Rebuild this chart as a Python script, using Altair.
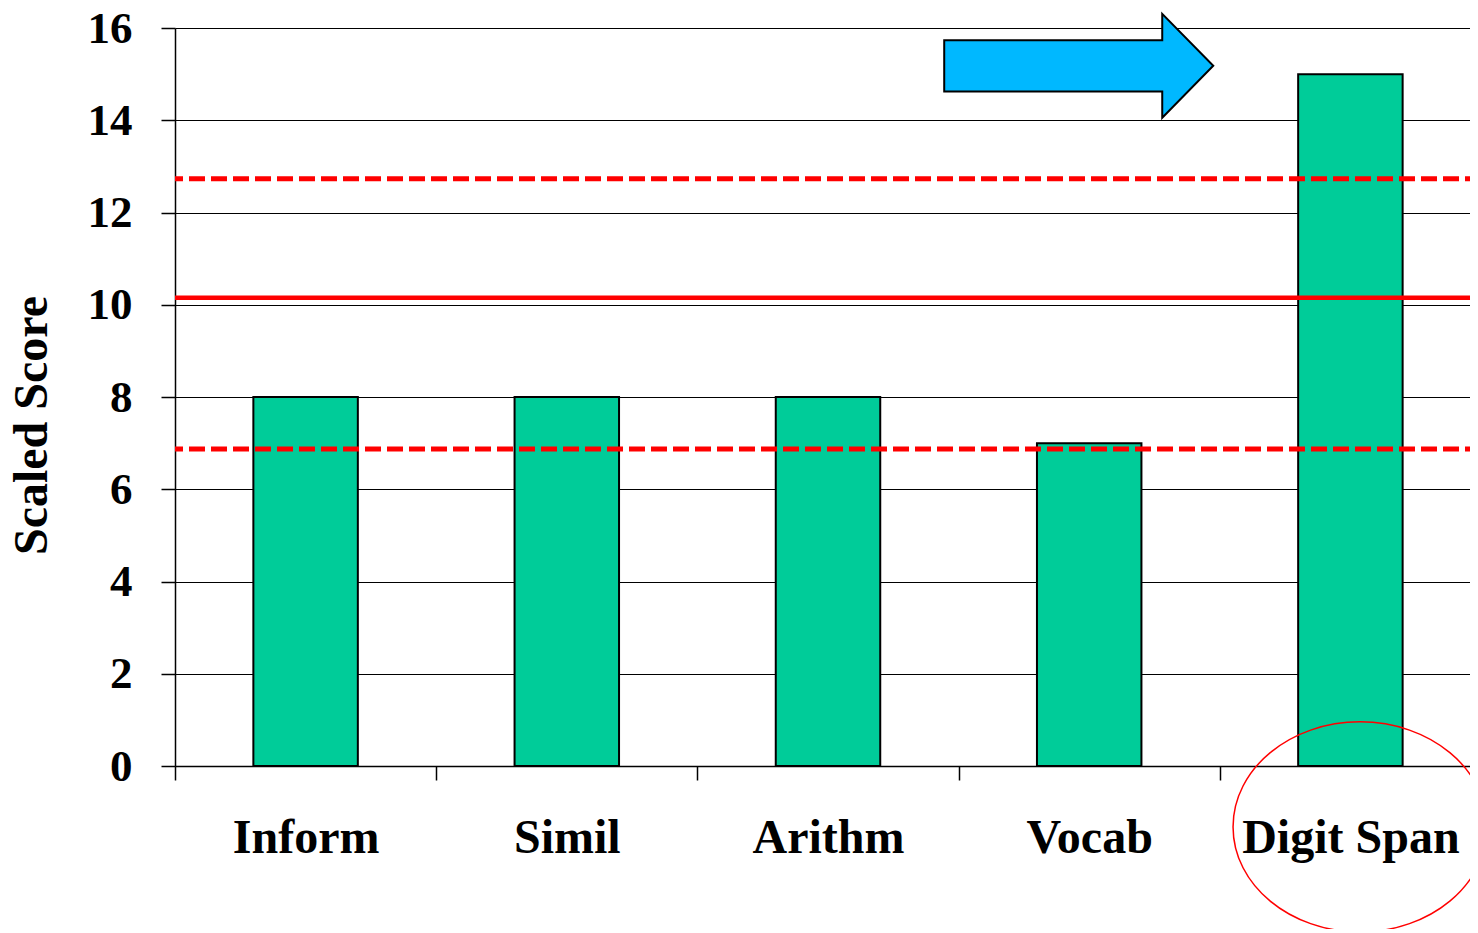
import altair as alt
import pandas as pd

# ---- data ----
categories = ["Inform", "Simil", "Arithm", "Vocab", "Digit Span"]
scores = [8, 8, 8, 7, 15]
y_ticks = [0, 2, 4, 6, 8, 10, 12, 14, 16]
mean_line = [10.15]
band_lines = [12.73, 6.87]
arrow_at = ["Vocab"]
arrow_level = [15.18]
circle_at = ["Digit Span"]
circle_level = [-1.32]

FONT = "Liberation Serif"

bars_df = pd.DataFrame({"subtest": categories, "score": scores})
mean_df = pd.DataFrame({"score": mean_line})
band_df = pd.DataFrame({"score": band_lines})
arrow_df = pd.DataFrame({"subtest": arrow_at, "score": arrow_level})
circle_df = pd.DataFrame({"subtest": circle_at, "score": circle_level})

x_enc = alt.X(
    "subtest:N",
    sort=categories,
    scale=alt.Scale(domain=categories, paddingInner=0, paddingOuter=0),
    axis=alt.Axis(
        title=None, labelAngle=0, labelFont=FONT, labelFontSize=48,
        labelFontWeight="bold", labelColor="black", labelBaseline="alphabetic",
        labelPadding=72, labelLimit=0, tickBand="extent", tickSize=14,
        tickColor="black", tickWidth=1.5, domainColor="black",
        domainWidth=1.5, grid=False,
    ),
)
y_enc = alt.Y(
    "score:Q",
    scale=alt.Scale(domain=[0, 16], nice=False, zero=True),
    axis=alt.Axis(
        values=y_ticks, title="Scaled Score", titleFont=FONT, titleFontSize=48,
        titleFontWeight="bold", titleColor="black", titleX=-143, titleY=397,
        titleAlign="center", titleBaseline="middle", titleAngle=270,
        labelFont=FONT, labelFontSize=45, labelFontWeight="bold",
        labelColor="black", labelPadding=29, labelBaseline="middle",
        tickSize=14, tickColor="black", tickWidth=1.5, domainColor="black",
        domainWidth=1.5, grid=True, gridColor="black", gridWidth=1,
    ),
)

bars = alt.Chart(bars_df).mark_bar(
    fill="#00CC99", stroke="black", strokeWidth=2,
    width=alt.RelativeBandSize(0.4),
).encode(x=x_enc, y=y_enc)

dashed = alt.Chart(band_df).mark_rule(
    color="#FF0000", strokeWidth=5, strokeDash=[16, 6]
).encode(y=y_enc)

solid = alt.Chart(mean_df).mark_rule(
    color="#FF0000", strokeWidth=4.5
).encode(y=y_enc)

arrow_path = ("M -1.074 -0.19 L 0.541 -0.19 L 0.541 -0.385 L 0.919 0 "
              "L 0.541 0.385 L 0.541 0.19 L -1.074 0.19 Z")
arrow = alt.Chart(arrow_df).mark_point(
    shape=arrow_path, size=72900, filled=True, fill="#00B8FF",
    stroke="black", strokeWidth=2, opacity=1,
).encode(x=x_enc, y=y_enc)

ellipse_path = ("M -0.924 0 A 1 0.827 0 1 0 1.076 0 "
                "A 1 0.827 0 1 0 -0.924 0 Z")
ellipse = alt.Chart(circle_df).mark_point(
    shape=ellipse_path, size=64516, filled=False, stroke="#FF0000",
    strokeWidth=1.5, opacity=1,
).encode(x=x_enc, y=y_enc)

chart = alt.layer(bars, dashed, solid, arrow, ellipse).properties(
    width=1306,
    height=738,
    padding={"left": 167, "top": 20, "right": -11, "bottom": 163},
    autosize=alt.AutoSizeParams(type="none"),
    background="white",
).configure_view(stroke=None)

chart.save("out.html", embed_options={"renderer": "svg", "actions": False})
